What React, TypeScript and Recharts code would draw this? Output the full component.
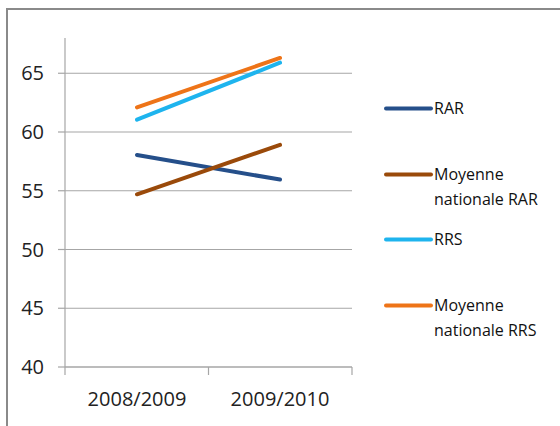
import { Legend, Line, LineChart, ReferenceLine, XAxis, YAxis } from "recharts";

const categories = ["2008/2009", "2009/2010"];
const rar = [58.05, 55.95];
const moyenneRar = [54.7, 58.9];
const rrs = [61.05, 65.9];
const moyenneRrs = [62.1, 66.3];
const yTicks = [40, 45, 50, 55, 60, 65];
const boundaryTicks = [0, 1, 2];

const series = [
  { key: "rar", name: "RAR", lines: ["RAR"], color: "#254f8a" },
  { key: "moyRar", name: "Moyenne nationale RAR", lines: ["Moyenne", "nationale RAR"], color: "#9a4a0a" },
  { key: "rrs", name: "RRS", lines: ["RRS"], color: "#1eb4ee" },
  { key: "moyRrs", name: "Moyenne nationale RRS", lines: ["Moyenne", "nationale RRS"], color: "#ee7418" },
];

const data = categories.map((year, i) => ({
  year,
  slot: i + 0.5,
  rar: rar[i],
  moyRar: moyenneRar[i],
  rrs: rrs[i],
  moyRrs: moyenneRrs[i],
}));

const FONT = "'Open Sans', sans-serif";
const GRID = "#a6a6a6";

const LegendBox = () => (
  <div style={{ fontFamily: FONT, fontSize: 16, color: "#111" }}>
    {series.map((s) => (
      <div key={s.key} style={{ display: "flex", height: 65.5, alignItems: "flex-start" }}>
        <svg width={50} height={25} style={{ flex: "none" }}>
          <line x1={2} y1={12.5} x2={47} y2={12.5} stroke={s.color} strokeWidth={4} strokeLinecap="round" />
        </svg>
        <div style={{ lineHeight: "25px", whiteSpace: "nowrap" }}>
          {s.lines.map((t) => (
            <div key={t}>{t}</div>
          ))}
        </div>
      </div>
    ))}
  </div>
);

export default function App() {
  return (
    <div
      style={{
        position: "absolute",
        left: 0,
        top: 0,
        width: 560,
        height: 426,
        overflow: "hidden",
        background: "#fff",
      }}
    >
      <div
        style={{
          position: "absolute",
          left: 6,
          top: 8,
          width: 620,
          height: 500,
          border: "2.5px solid #8a8a8a",
        }}
      />
      <div style={{ position: "absolute", left: 0, top: 0 }}>
        <LineChart
          width={560}
          height={426}
          data={data}
          margin={{ top: 38, right: 208, bottom: 0, left: 0 }}
        >
          <XAxis
            xAxisId="a"
            type="number"
            dataKey="slot"
            domain={[0, 2]}
            ticks={boundaryTicks}
            allowDataOverflow
            height={8}
            tickSize={8}
            tickFormatter={() => ""}
            stroke={GRID}
            strokeWidth={1.2}
          />
          <XAxis
            xAxisId="b"
            dataKey="year"
            height={51}
            axisLine={false}
            tickLine={false}
            tickSize={0}
            tickMargin={17}
            padding={{ left: 72, right: 72 }}
            tick={{ fill: "#222", fontSize: 20, fontFamily: FONT }}
          />
          <YAxis
            domain={[40, 68]}
            ticks={yTicks}
            width={65}
            tickSize={7}
            tickMargin={14}
            stroke={GRID}
            strokeWidth={1.2}
            tick={{ fill: "#222", fontSize: 20, fontFamily: FONT }}
          />
          {yTicks.map((t) => (
            <ReferenceLine key={t} xAxisId="b" y={t} stroke={GRID} strokeWidth={1.2} />
          ))}
          {series.map((s) => (
            <Line
              key={s.key}
              xAxisId="b"
              dataKey={s.key}
              name={s.name}
              stroke={s.color}
              strokeWidth={4}
              strokeLinecap="round"
              dot={false}
              activeDot={false}
              isAnimationActive={false}
            />
          ))}
          <Legend
            layout="vertical"
            align="center"
            verticalAlign="middle"
            content={<LegendBox />}
            wrapperStyle={{ left: 384, top: 96, width: 176 }}
          />
        </LineChart>
      </div>
    </div>
  );
}
